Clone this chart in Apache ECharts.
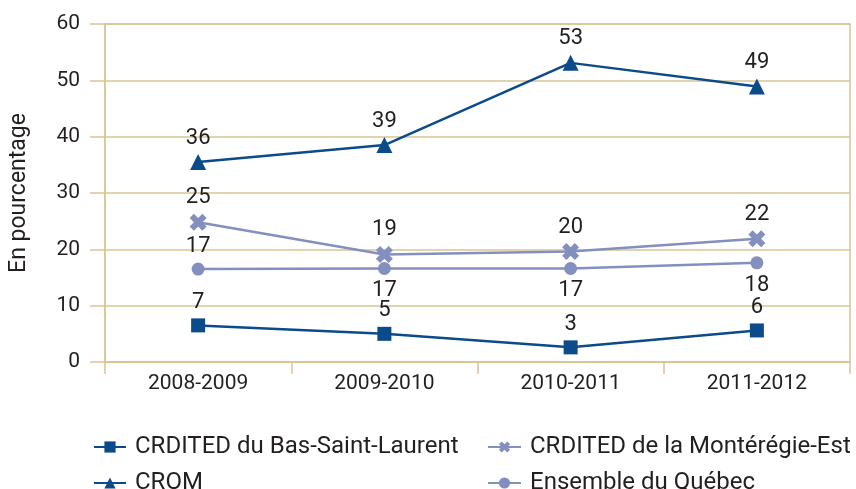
<!DOCTYPE html>
<html>
<head>
    <meta charset="utf-8">
    <title>En pourcentage</title>
    <script src="https://cdn.jsdelivr.net/npm/echarts@6/dist/echarts.min.js"></script>
</head>
<body style="margin:0">
<div id="main" style="width:856px;height:489px"></div>
<script type="text/javascript">
    // données
    var annees = ['2008-2009', '2009-2010', '2010-2011', '2011-2012'];
    var basSaintLaurent = [6.5, 5.0, 2.6, 5.6];
    var monteregieEst = [24.8, 19.1, 19.6, 21.9];
    var crom = [35.5, 38.5, 53.1, 48.9];
    var ensembleQuebec = [16.5, 16.6, 16.6, 17.6];
    // position des étiquettes pour Ensemble du Québec
    var posEnsemble = ['top', 'bottom', 'bottom', 'bottom'];

    var fonce = '#0b4b8a';
    var pale = '#8390bf';
    var grille = '#d9c594';
    var police = 'Roboto';

    var symboleX = 'path://M2.5,0 L5,2.5 L7.5,0 L10,2.5 L7.5,5 L10,7.5 L7.5,10 L5,7.5 L2.5,10 L0,7.5 L2.5,5 L0,2.5 Z';

    function etiquette() {
        return {
            show: true,
            position: 'top',
            distance: 5,
            color: '#231f20',
            fontFamily: police,
            fontSize: 22,
            formatter: function (p) { return Math.round(p.value); }
        };
    }

    // une légende par entrée (2 colonnes x 2 lignes)
    function legende(nom, gauche, haut, largeur) {
        return {
            left: gauche, top: haut,
            padding: 0,
            itemWidth: largeur, itemHeight: 14,
            data: [nom],
            textStyle: { fontFamily: police, fontSize: 24, lineHeight: 18, color: '#231f20', padding: [0, 0, 0, 4] }
        };
    }

    var myChart = echarts.init(document.getElementById('main'));

    myChart.setOption({
        animation: false,
        grid: {
            left: 105, right: 6, top: 24, bottom: 127,
            show: true, borderColor: grille, borderWidth: 1.5
        },
        legend: [
            legende('CRDITED du Bas-Saint-Laurent', 93, 435, 32),
            legende('CROM', 93, 471, 32),
            legende('CRDITED de la Montérégie-Est', 487, 435, 33),
            legende('Ensemble du Québec', 487, 471, 33)
        ],
        xAxis: {
            type: 'category',
            data: annees,
            boundaryGap: true,
            axisLine: { lineStyle: { color: grille, width: 1.5 } },
            axisTick: { show: true, length: 12, lineStyle: { color: grille, width: 1.5 } },
            axisLabel: { color: '#231f20', fontFamily: police, fontSize: 21, margin: 11 }
        },
        yAxis: {
            type: 'value',
            min: 0, max: 60, interval: 10,
            name: 'En pourcentage',
            nameLocation: 'middle',
            nameGap: 74,
            nameTextStyle: { color: '#231f20', fontFamily: police, fontSize: 23 },
            axisLine: { show: true, lineStyle: { color: grille, width: 1.5 } },
            axisTick: { show: true, length: 15, lineStyle: { color: grille, width: 1.5 } },
            splitLine: { lineStyle: { color: grille, width: 1.5 } },
            axisLabel: { color: '#231f20', fontFamily: police, fontSize: 21, margin: 25 }
        },
        series: [
            {
                name: 'CRDITED du Bas-Saint-Laurent',
                type: 'line',
                data: basSaintLaurent,
                symbol: 'rect', symbolSize: 14,
                itemStyle: { color: fonce },
                lineStyle: { color: fonce, width: 2.5 },
                label: etiquette()
            },
            {
                name: 'CRDITED de la Montérégie-Est',
                type: 'line',
                data: monteregieEst,
                symbol: symboleX, symbolSize: 17,
                itemStyle: { color: pale },
                lineStyle: { color: pale, width: 2.5 },
                label: etiquette()
            },
            {
                name: 'CROM',
                type: 'line',
                data: crom,
                symbol: 'triangle', symbolSize: 16,
                itemStyle: { color: fonce },
                lineStyle: { color: fonce, width: 2.5 },
                label: etiquette()
            },
            {
                name: 'Ensemble du Québec',
                type: 'line',
                data: ensembleQuebec.map(function (v, i) {
                    return { value: v, label: { position: posEnsemble[i] } };
                }),
                symbol: 'circle', symbolSize: 13,
                itemStyle: { color: pale },
                lineStyle: { color: pale, width: 2.5 },
                label: etiquette()
            }
        ]
    });
</script>
</body>
</html>
